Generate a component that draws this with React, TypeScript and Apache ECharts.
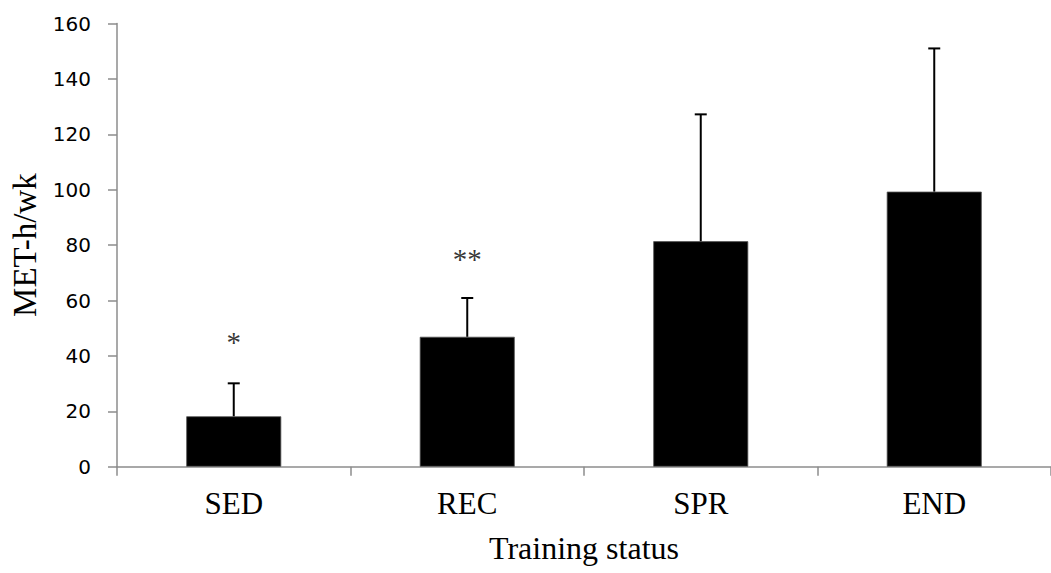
import React, { useEffect, useRef } from "react";
import * as echarts from "echarts";

const categories = ["SED", "REC", "SPR", "END"];
const means = [18.2, 46.9, 81.4, 99.3];
const sdUpper = [11.9, 14.0, 45.8, 51.7];
const sigLabels = ["*", "**", "", ""];
const sigPositions = [45, 75, null, null];
const yTicks = [0, 20, 40, 60, 80, 100, 120, 140, 160];

export default function App() {
  const ref = useRef<HTMLDivElement>(null);
  useEffect(() => {
    document.body.style.margin = "0";
    const chart = echarts.init(ref.current!, null, { renderer: "svg" });
    const serif = "'Liberation Serif', 'Times New Roman', serif";
    const sans = "'DejaVu Sans', 'Open Sans', sans-serif";
    chart.setOption({
      animation: false,
      backgroundColor: "#ffffff",
      grid: { left: 117, top: 23.5, width: 936, height: 443.2 },
      xAxis: {
        type: "category",
        data: categories,
        boundaryGap: true,
        name: "Training status",
        nameLocation: "middle",
        nameGap: 65,
        nameTextStyle: { fontFamily: serif, fontSize: 32, color: "#000" },
        axisLine: { lineStyle: { color: "#8c8c8c", width: 1.5 } },
        axisTick: { show: true, length: 9, lineStyle: { color: "#8c8c8c", width: 1.5 } },
        axisLabel: { fontFamily: serif, fontSize: 31, color: "#000", margin: 21 },
      },
      yAxis: {
        type: "value",
        min: yTicks[0],
        max: yTicks[yTicks.length - 1],
        interval: 20,
        name: "MET-h/wk",
        nameLocation: "middle",
        nameGap: 74,
        nameTextStyle: { fontFamily: serif, fontSize: 33, color: "#000" },
        axisLine: { show: true, lineStyle: { color: "#8c8c8c", width: 1.5 } },
        axisTick: { show: true, length: 9, lineStyle: { color: "#8c8c8c", width: 1.5 } },
        splitLine: { show: false },
        axisLabel: { fontFamily: sans, fontSize: 20, color: "#000", margin: 26 },
      },
      series: [
        {
          type: "bar",
          data: means,
          barWidth: 95,
          itemStyle: { color: "#000000", borderColor: "#555", borderWidth: 0.8 },
        },
        {
          type: "custom",
          data: means.map((m, i) => [i, m, m + sdUpper[i]]),
          renderItem: (params: any, api: any) => {
            const i = api.value(0);
            const lo = api.coord([i, api.value(1)]);
            const hi = api.coord([i, api.value(2)]);
            const half = 6;
            const style = { stroke: "#000", lineWidth: 2 };
            return {
              type: "group",
              children: [
                { type: "line", shape: { x1: lo[0], y1: lo[1], x2: hi[0], y2: hi[1] }, style },
                { type: "line", shape: { x1: hi[0] - half, y1: hi[1], x2: hi[0] + half, y2: hi[1] }, style },
              ],
            };
          },
          z: 3,
        },
        {
          type: "scatter",
          symbolSize: 0,
          data: sigPositions.map((v, i) => (v === null ? null : { value: [i, v], label: { formatter: sigLabels[i] } })),
          label: {
            show: true,
            position: "inside",
            fontFamily: serif,
            fontSize: 29,
            color: "#000",
          },
          z: 4,
        },
      ],
    });
    return () => chart.dispose();
  }, []);
  return <div ref={ref} style={{ width: 1051, height: 573 }} />;
}
